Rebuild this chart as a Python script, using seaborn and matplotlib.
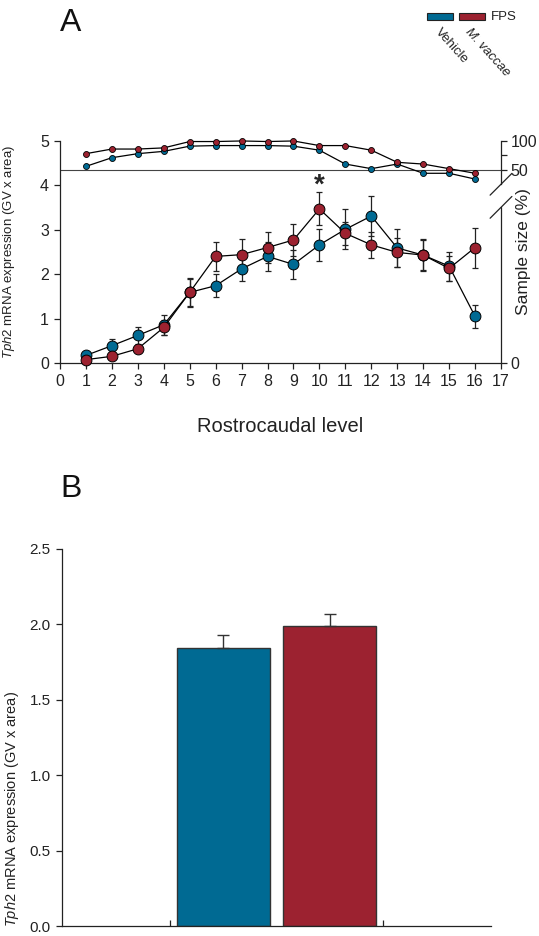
import matplotlib
matplotlib.use("Agg")
import matplotlib.pyplot as plt
from matplotlib.patches import Rectangle
import seaborn as sns
import pandas as pd

# --- data ---
levels = list(range(1, 17))

vehicle_mean = [0.17, 0.39, 0.62, 0.86, 1.59, 1.74, 2.12, 2.40,
                2.22, 2.66, 3.01, 3.31, 2.59, 2.43, 2.18, 1.05]
vehicle_sem = [0.04, 0.14, 0.20, 0.22, 0.30, 0.26, 0.27, 0.32,
               0.33, 0.36, 0.45, 0.45, 0.42, 0.36, 0.33, 0.26]

mvaccae_mean = [0.075, 0.15, 0.32, 0.80, 1.59, 2.40, 2.44, 2.60,
                2.77, 3.47, 2.92, 2.66, 2.49, 2.43, 2.13, 2.60]
mvaccae_sem = [0.04, 0.05, 0.06, 0.16, 0.32, 0.33, 0.35, 0.34,
               0.36, 0.37, 0.26, 0.30, 0.32, 0.34, 0.29, 0.45]

# sample size (%) per level
vehicle_n = [56, 71, 78, 82, 91, 92, 92, 92, 91, 84, 60, 52, 60, 44, 44, 34]
mvaccae_n = [78, 86, 86, 88, 99, 99, 100, 99, 100, 92, 92, 84, 63, 60, 52, 44]

bar_groups = ["Vehicle", "M. vaccae"]
bar_means = [1.84, 1.99]
bar_sems = [0.085, 0.08]

BLUE = "#006a93"
RED = "#9c2230"
EDGE = "#222222"

sns.set_theme(style="ticks")
plt.rcParams["font.family"] = ["Liberation Sans", "DejaVu Sans"]
plt.rcParams["mathtext.fontset"] = "custom"
plt.rcParams["mathtext.it"] = "Liberation Sans:italic"
plt.rcParams["mathtext.rm"] = "Liberation Sans"
plt.rcParams["axes.linewidth"] = 0.9
plt.rcParams["axes.edgecolor"] = EDGE


def to_axis(s):
    # upper part of the broken right axis: 50 % -> 4.35, 100 % -> 5.0
    return 4.35 + (s - 50) * 0.65 / 50


fig = plt.figure(figsize=(5.39, 9.36), dpi=100)

# ---------------- Panel A ----------------
ax = fig.add_axes([0.1113, 0.6122, 0.8182, 0.2372])

ax.axhline(4.35, color="#444444", lw=0.8, zorder=1)

for n, col in [(vehicle_n, BLUE), (mvaccae_n, RED)]:
    sns.lineplot(x=levels, y=[to_axis(s) for s in n], color="black", lw=0.9,
                 marker="o", markersize=4.3, markerfacecolor=col,
                 markeredgecolor="black", markeredgewidth=0.6,
                 ax=ax, clip_on=False, zorder=3)

for mean, sem, col in [(vehicle_mean, vehicle_sem, BLUE),
                       (mvaccae_mean, mvaccae_sem, RED)]:
    ax.errorbar(levels, mean, yerr=sem, fmt="none", ecolor="#222222",
                elinewidth=0.9, capsize=2.5, capthick=0.9, zorder=2)
    sns.lineplot(x=levels, y=mean, color="black", lw=0.9,
                 marker="o", markersize=7.8, markerfacecolor=col,
                 markeredgecolor="black", markeredgewidth=0.7,
                 ax=ax, clip_on=False, zorder=3)

ax.text(10, 4.0, "*", ha="center", va="center", fontsize=20,
        fontweight="bold")

ax.set_xlim(0, 17)
ax.set_ylim(0, 5)
ax.set_xticks(range(0, 18))
ax.set_yticks(range(0, 6))
ax.tick_params(direction="out", length=4, width=0.9, labelsize=11.5,
               pad=4, colors=EDGE, labelcolor="#222222")
ax.spines["top"].set_visible(False)
ax.spines["right"].set_visible(False)
ax.set_xlabel("Rostrocaudal level", fontsize=14.5, color="#222222")
ax.xaxis.set_label_coords(0.5, -0.245)
ax.set_ylabel(r"$\it{Tph2}$ mRNA expression (GV x area)", fontsize=9.5,
              color="#222222")
ax.yaxis.set_label_coords(-0.097, 0.5)

# right axis: sample size with a break
ax2 = ax.twinx()
ax2.set_ylim(0, 5)
ax2.set_yticks([0, to_axis(50), to_axis(100)])
ax2.set_yticklabels(["0", "50", "100"])
ax2.set_yticks([to_axis(75)], minor=True)
ax2.tick_params(axis="y", which="both", direction="out", length=4,
                width=0.9, labelsize=11.5, pad=3, colors=EDGE,
                labelcolor="#222222")
for s in ["top", "left", "bottom"]:
    ax2.spines[s].set_visible(False)
ax2.spines["right"].set_bounds(4.025, 5)
ax.plot([17, 17], [0, 3.505], color=EDGE, lw=0.9, clip_on=False)
ax.plot([16.58, 17.42], [3.78, 4.27], color=EDGE, lw=0.9, clip_on=False)
ax.plot([16.58, 17.42], [3.26, 3.75], color=EDGE, lw=0.9, clip_on=False)
ax2.set_ylabel("Sample size (%)", fontsize=12.5, color="#222222")
ax2.yaxis.set_label_coords(1.035, 0.5)

fig.text(60 / 539, 1 - 31 / 936, "A", fontsize=23, ha="left",
         va="baseline", color="#111111")

# legend
fig.patches.append(Rectangle((427 / 539, 1 - 20 / 936), 26 / 539, 7 / 936,
                             transform=fig.transFigure, facecolor=BLUE,
                             edgecolor=EDGE, lw=0.8))
fig.patches.append(Rectangle((459 / 539, 1 - 20 / 936), 26 / 539, 7 / 936,
                             transform=fig.transFigure, facecolor=RED,
                             edgecolor=EDGE, lw=0.8))
fig.text(491 / 539, 1 - 16.5 / 936, "FPS", fontsize=9.5, ha="left",
         va="center", color="#222222")
fig.text(442 / 539, 1 - 26 / 936, "Vehicle", fontsize=9.5, ha="left",
         va="top", rotation=-48, rotation_mode="anchor", color="#222222")
fig.text(472 / 539, 1 - 26 / 936, "M. vaccae", fontsize=9.5, ha="left",
         va="top", rotation=-48, rotation_mode="anchor", style="italic",
         color="#222222")

# ---------------- Panel B ----------------
axb = fig.add_axes([0.115, 0.01068, 0.796, 0.4031])
df_bar = pd.DataFrame({"group": bar_groups, "mean": bar_means})
sns.barplot(data=df_bar, x="group", y="mean", hue="group",
            palette=[BLUE, RED], saturation=1, width=0.88,
            edgecolor="#333333", linewidth=1, legend=False, ax=axb)
axb.errorbar([0, 1], bar_means, yerr=[[0, 0], bar_sems], fmt="none",
             ecolor="#333333", elinewidth=1, capsize=4, capthick=1)

axb.set_xlim(-1.52, 2.52)
axb.set_ylim(0, 2.5)
axb.set_xticks([-0.5, 1.5])
axb.set_xticklabels(["", ""])
axb.set_yticks([0, 0.5, 1.0, 1.5, 2.0, 2.5])
axb.set_yticklabels(["0.0", "0.5", "1.0", "1.5", "2.0", "2.5"])
axb.tick_params(axis="x", direction="in", length=4, width=0.9, colors=EDGE)
axb.tick_params(axis="y", direction="out", length=4, width=0.9,
                labelsize=11, pad=4, colors=EDGE, labelcolor="#222222")
axb.spines["top"].set_visible(False)
axb.spines["right"].set_visible(False)
axb.set_xlabel("")
axb.set_ylabel(r"$\it{Tph2}$ mRNA expression (GV x area)", fontsize=10.5,
               color="#222222")
axb.yaxis.set_label_coords(-0.095, 0.31)

fig.text(60 / 539, 1 - 497 / 936, "B", fontsize=23, ha="left",
         va="baseline", color="#111111")

fig.savefig("out.png", dpi=100)
